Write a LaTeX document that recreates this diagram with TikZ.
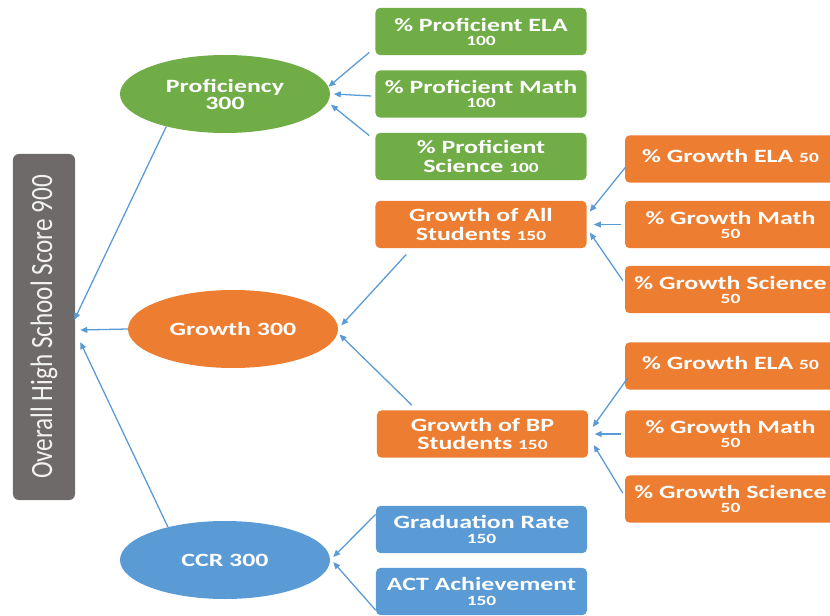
\documentclass[tikz,border=0pt]{standalone}
\usepackage{fontspec}
\usepackage{graphicx}
\setmainfont{Carlito}
\newfontfamily\widefont{Carlito}[FakeStretch=1.38]
\usetikzlibrary{shapes.geometric,arrows.meta}

\definecolor{prfgreen}{HTML}{70AD47}
\definecolor{grworange}{HTML}{ED7D31}
\definecolor{ccrblue}{HTML}{5B9BD5}
\definecolor{sidegray}{HTML}{6F6A6A}
\definecolor{feedblue}{HTML}{5B9BD5}

% small score figures inside the boxes
\newcommand{\pts}[1]{{\fontsize{12}{12}\selectfont #1}}

\tikzset{
  item/.style={rectangle, rounded corners=4pt, minimum width=6.33cm,
    minimum height=1.42cm, inner sep=0pt, text=white, align=center,
    font=\widefont\bfseries\fontsize{16}{16}\selectfont},
  part/.style={ellipse, minimum width=6.3cm, minimum height=2.34cm,
    inner sep=0pt, text=white, align=center,
    font=\widefont\bfseries\fontsize{16}{16}\selectfont},
  feed/.style={draw=feedblue, line width=1.1pt,
    -{Triangle[length=6pt,width=5pt]}}
}

\begin{document}
\begin{tikzpicture}[x=0.03cm, y=-0.03cm]
  \useasboundingbox (0,0) rectangle (830,616);
  \clip (0,0) rectangle (830,616);

  % total
  \node[rectangle, rounded corners=5pt, fill=sidegray, minimum width=1.86cm,
    minimum height=10.38cm, inner sep=0pt, text=white!95!black] (side) at (44,327)
    {\rotatebox{90}{\scalebox{1}[1.23]{\fontsize{21.5}{24}\selectfont Overall High School Score 900}}};

  % three parts
  \node[part, fill=prfgreen] (prof) at (225,94) {Proficiency\\[-1.5pt]300};
  \node[part, fill=grworange] (grw) at (233,329) {Growth 300};
  \node[part, fill=ccrblue] (ccr) at (225,560) {CCR 300};

  % proficiency items
  \node[item, fill=prfgreen] (pela) at (481,31.5) {\% Proficient ELA\\[-4pt]\pts{100}};
  \node[item, fill=prfgreen] (pmath) at (481,94) {\% Proficient Math\\[-4pt]\pts{100}};
  \node[item, fill=prfgreen] (psci) at (481,156.5) {\% Proficient\\Science \pts{100}};

  % growth items
  \node[item, fill=grworange] (gall) at (481,224.5) {Growth of All\\Students \pts{150}};
  \node[item, fill=grworange] (gbp) at (482.5,434) {Growth of BP\\Students \pts{150}};

  \node[item, fill=grworange] (gelaA) at (730.5,159) {\% Growth ELA \pts{50}\\[-10pt]\mbox{}};
  \node[item, fill=grworange] (gmathA) at (730.5,224.5) {\% Growth Math\\[-4pt]\pts{50}};
  \node[item, fill=grworange] (gsciA) at (730.5,289.5) {\% Growth Science\\[-4pt]\pts{50}};

  \node[item, fill=grworange] (gelaB) at (730.5,366) {\% Growth ELA \pts{50}\\[-10pt]\mbox{}};
  \node[item, fill=grworange] (gmathB) at (730.5,434) {\% Growth Math\\[-4pt]\pts{50}};
  \node[item, fill=grworange] (gsciB) at (730.5,499) {\% Growth Science\\[-4pt]\pts{50}};

  % ccr items
  \node[item, fill=ccrblue] (grad) at (481.5,529.5) {Graduation Rate\\[-3pt]\pts{150}};
  \node[item, fill=ccrblue] (act) at (481.5,591.5) {ACT Achievement\\[-3pt]\pts{150}};

  % connectors
  \draw[feed] ([shift={(-6,-3)}]pela.south west) -- (prof.4);
  \draw[feed] ([shift={(-4,2)}]pmath.west) -- ([xshift=3]prof.east);
  \draw[feed] ([shift={(-6,3)}]psci.north west) -- ([xshift=4]prof.-6);

  \draw[feed] (prof.209) -- ([shift={(-1,-7)}]side.east);
  \draw[feed] (grw.west) -- ([shift={(5,3)}]side.east);
  \draw[feed] (ccr.150) -- ([shift={(5,15)}]side.east);

  \draw[feed] ([shift={(31,6)}]gall.south west) -- ([xshift=3]grw.2);
  \draw[feed] ([shift={(35,-5)}]gbp.north west) -- ([xshift=2]grw.-3);

  \draw[feed] ([shift={(1,-16)}]gelaA.south west) -- ([shift={(3,11)}]gall.north east);
  \draw[feed] ([xshift=-3]gmathA.west) -- ([xshift=6]gall.east);
  \draw[feed] ([shift={(-2,-9)}]gsciA.west) -- ([shift={(3,8)}]gall.east);

  \draw[feed] ([shift={(3,-12)}]gelaB.south west) -- ([shift={(4.5,-7)}]gbp.east);
  \draw[feed] ([xshift=-3]gmathB.west) -- ([xshift=5.5]gbp.east);
  \draw[feed] ([shift={(-2,-6)}]gsciB.west) -- ([shift={(5.5,11)}]gbp.east);

  \draw[feed] ([yshift=13]grad.west) -- ([shift={(3,-3)}]ccr.east);
  \draw[feed] ([yshift=-16]act.west) -- ([shift={(3,2)}]ccr.east);
\end{tikzpicture}
\end{document}
